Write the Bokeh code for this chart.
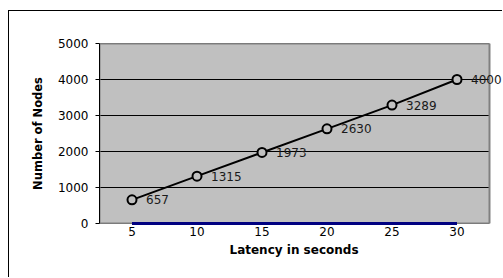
from bokeh.plotting import figure
from bokeh.models import Range1d, FixedTicker, ColumnDataSource, LabelSet, Title
from bokeh.core.properties import value
from bokeh.embed import file_html
from bokeh.resources import INLINE

latency = [5, 10, 15, 20, 25, 30]
nodes = [657, 1315, 1973, 2630, 3289, 4000]
baseline = [0, 0, 0, 0, 0, 0]
y_ticks = [0, 1000, 2000, 3000, 4000, 5000]

FONT = "DejaVu Sans"

X0, X1 = 2.5, 32.5          # extent of the shaded plot area
Y0, Y1 = 0, 5000
FRAME_PX, AREA_PX = 404, 390
X_END = X0 + (X1 - X0) * FRAME_PX / AREA_PX   # frame runs to the canvas edge so labels are not cut

# canvas starts at page (9, 11) after the css margin + border
p = figure(width=494, height=267, output_backend="svg", toolbar_location=None,
           x_range=Range1d(X0, X_END), y_range=Range1d(Y0, Y1),
           min_border_left=90, min_border_right=0, min_border_top=32, min_border_bottom=55)

p.styles = {"margin-left": "8px", "margin-top": "10px",
            "border-left": "1px solid black", "border-top": "1px solid black"}

p.background_fill_color = "white"
p.border_fill_color = "white"
p.outline_line_color = None
p.xgrid.grid_line_color = None
p.ygrid.grid_line_color = None

# shaded plot area
p.quad(left=[X0], right=[X1], bottom=[Y0], top=[Y1], fill_color="#C0C0C0",
       line_color=None, level="image")
# horizontal gridlines across the plot area only
p.segment(x0=[X0] * len(y_ticks), x1=[X1] * len(y_ticks), y0=y_ticks, y1=y_ticks,
          line_color="black", line_width=1, level="underlay")
# gray plot-area border
p.quad(left=[X0], right=[X1], bottom=[Y0], top=[Y1], fill_color=None,
       line_color="#808080", line_width=2, level="underlay")

# y axis
ya = p.yaxis[0]
ya.ticker = FixedTicker(ticks=y_ticks)
ya.axis_line_color = "black"
ya.axis_line_width = 1
ya.major_tick_out = 4
ya.major_tick_in = 0
ya.minor_tick_line_color = None
ya.major_label_text_font = FONT
ya.major_label_text_font_size = "12px"
ya.major_label_text_color = "black"
ya.major_label_standoff = 7
ya.axis_label = "Number of Nodes"
ya.axis_label_text_font = FONT
ya.axis_label_text_font_size = "11.5px"
ya.axis_label_text_font_style = "bold"
ya.axis_label_text_color = "black"
ya.axis_label_standoff = 10

# x axis
xa = p.xaxis[0]
xa.ticker = FixedTicker(ticks=latency)
xa.axis_line_color = None
xa.major_tick_line_color = None
xa.minor_tick_line_color = None
xa.major_label_text_font = FONT
xa.major_label_text_font_size = "12px"
xa.major_label_text_color = "black"
xa.major_label_standoff = -3

xtitle = Title(text="Latency in seconds", align="left", offset=130, standoff=5,
               text_font=FONT, text_font_size="12px", text_font_style="bold",
               text_color="black")
p.add_layout(xtitle, "below")

src = ColumnDataSource(dict(x=latency, y=nodes, lbl=[str(v) for v in nodes], z=baseline))

p.line("x", "z", source=src, line_color="#000080", line_width=3, level="overlay")
p.line("x", "y", source=src, line_color="black", line_width=2)
p.scatter("x", "y", source=src, marker="circle", size=9, fill_color="#C0C0C0",
          line_color="black", line_width=2)

labels = LabelSet(x="x", y="y", text="lbl", source=src, x_offset=14, y_offset=0,
                  text_align="left", text_baseline="middle", text_font_size="12px",
                  text_color="#1a1a1a", text_font=value(FONT))
p.add_layout(labels)

open("out.html", "w").write(file_html(p, INLINE))
